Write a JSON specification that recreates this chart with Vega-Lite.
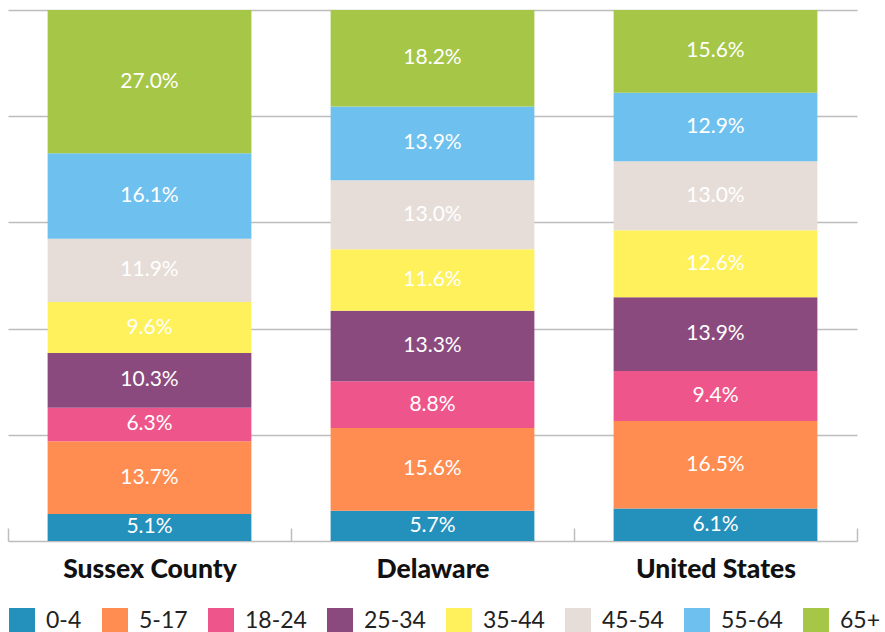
{
  "$schema": "https://vega.github.io/schema/vega-lite/v6.json",
  "width": 849,
  "height": 531,
  "padding": {"left": 7, "top": 10, "right": 0, "bottom": 0},
  "autosize": {"type": "pad"},
  "config": {"view": {"stroke": null}, "font": "Lato"},
  "data": {
    "values": [
      {"region": "Sussex County", "age": "0-4", "order": 1, "value": 5.1},
      {"region": "Sussex County", "age": "5-17", "order": 2, "value": 13.7},
      {"region": "Sussex County", "age": "18-24", "order": 3, "value": 6.3},
      {"region": "Sussex County", "age": "25-34", "order": 4, "value": 10.3},
      {"region": "Sussex County", "age": "35-44", "order": 5, "value": 9.6},
      {"region": "Sussex County", "age": "45-54", "order": 6, "value": 11.9},
      {"region": "Sussex County", "age": "55-64", "order": 7, "value": 16.1},
      {"region": "Sussex County", "age": "65+", "order": 8, "value": 27.0},
      {"region": "Delaware", "age": "0-4", "order": 1, "value": 5.7},
      {"region": "Delaware", "age": "5-17", "order": 2, "value": 15.6},
      {"region": "Delaware", "age": "18-24", "order": 3, "value": 8.8},
      {"region": "Delaware", "age": "25-34", "order": 4, "value": 13.3},
      {"region": "Delaware", "age": "35-44", "order": 5, "value": 11.6},
      {"region": "Delaware", "age": "45-54", "order": 6, "value": 13.0},
      {"region": "Delaware", "age": "55-64", "order": 7, "value": 13.9},
      {"region": "Delaware", "age": "65+", "order": 8, "value": 18.2},
      {"region": "United States", "age": "0-4", "order": 1, "value": 6.1},
      {"region": "United States", "age": "5-17", "order": 2, "value": 16.5},
      {"region": "United States", "age": "18-24", "order": 3, "value": 9.4},
      {"region": "United States", "age": "25-34", "order": 4, "value": 13.9},
      {"region": "United States", "age": "35-44", "order": 5, "value": 12.6},
      {"region": "United States", "age": "45-54", "order": 6, "value": 13.0},
      {"region": "United States", "age": "55-64", "order": 7, "value": 12.9},
      {"region": "United States", "age": "65+", "order": 8, "value": 15.6}
    ]
  },
  "transform": [
    {"stack": "value", "groupby": ["region"], "sort": [{"field": "order", "order": "ascending"}], "offset": "normalize", "as": ["y0", "y1"]},
    {"calculate": "(datum.y0 + datum.y1) / 2", "as": "ymid"},
    {"calculate": "format(datum.value, '.1f') + '%'", "as": "lab"}
  ],
  "encoding": {
    "x": {
      "field": "region",
      "type": "nominal",
      "sort": ["Sussex County", "Delaware", "United States"],
      "scale": {"paddingInner": 0, "paddingOuter": 0},
      "axis": {
        "title": null,
        "labelAngle": 0,
        "labelFont": "Lato",
        "labelFontWeight": 900,
        "labelFontSize": 26.5,
        "labelColor": "#111111",
        "labelPadding": 28,
        "domainColor": "#bdbdbd",
        "domainWidth": 1.5,
        "tickColor": "#bdbdbd",
        "tickWidth": 1.5,
        "tickSize": -13,
        "tickBand": "extent"
      }
    }
  },
  "layer": [
    {
      "mark": {"type": "bar", "width": {"band": 0.72}},
      "encoding": {
        "y": {
          "field": "y0",
          "type": "quantitative",
          "scale": {"domain": [0, 1], "nice": false},
          "axis": {
            "title": null,
            "labels": false,
            "ticks": false,
            "domain": false,
            "grid": true,
            "values": [0.2, 0.4, 0.6, 0.8, 1.0],
            "gridColor": "#bdbdbd",
            "gridWidth": 1.5
          }
        },
        "y2": {"field": "y1"},
        "color": {
          "field": "age",
          "type": "nominal",
          "scale": {
            "domain": ["0-4", "5-17", "18-24", "25-34", "35-44", "45-54", "55-64", "65+"],
            "range": ["#2490bc", "#ff8c50", "#ee558b", "#8b4a7e", "#fff15c", "#e6ddd8", "#6ec1ee", "#a5c647"]
          },
          "legend": {
            "title": null,
            "orient": "none",
            "legendX": 1,
            "legendY": 598,
            "direction": "horizontal",
            "symbolType": "square",
            "symbolSize": 676,
            "symbolStrokeWidth": 0,
            "symbolOpacity": 1,
            "labelFont": "Lato",
            "labelFontSize": 23,
            "labelColor": "#222222",
            "labelOffset": 11,
            "columnPadding": 20
          }
        }
      }
    },
    {
      "mark": {"type": "text", "color": "white", "fontSize": 21, "font": "Lato", "baseline": "middle"},
      "encoding": {
        "y": {"field": "ymid", "type": "quantitative"},
        "text": {"field": "lab"}
      }
    }
  ]
}
